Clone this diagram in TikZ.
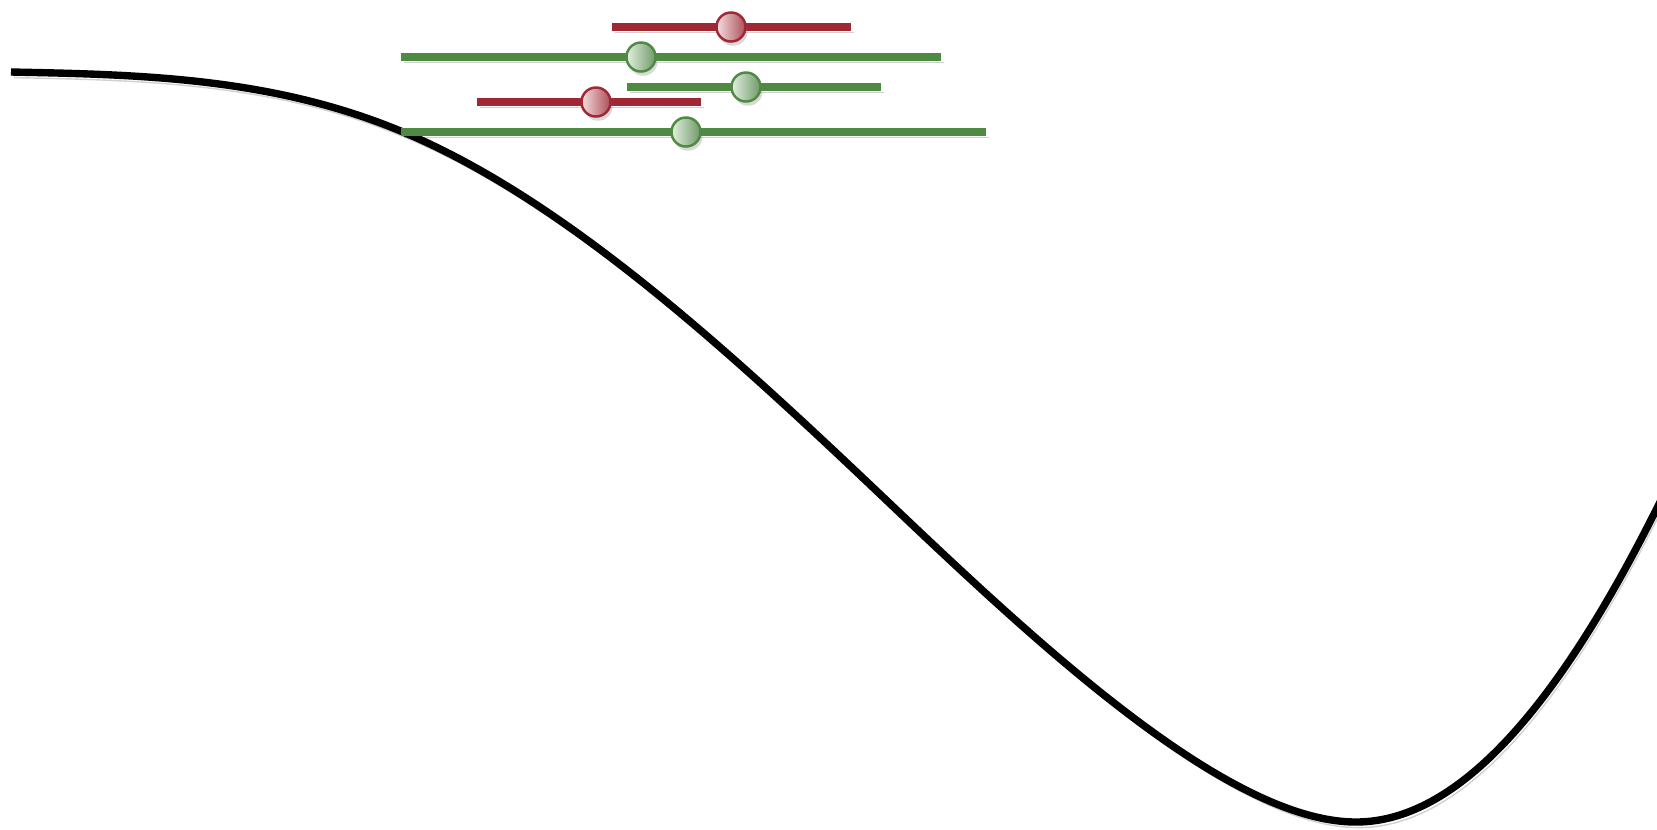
\documentclass[tikz,border=0pt]{standalone}
\usepackage{tikz}
\usetikzlibrary{shadows}

\definecolor{barred}{RGB}{160,40,52}
\definecolor{bargreen}{RGB}{78,138,66}
\definecolor{knobredlight}{RGB}{244,222,224}
\definecolor{knobreddark}{RGB}{172,78,88}
\definecolor{knobgreenlight}{RGB}{226,240,223}
\definecolor{knobgreendark}{RGB}{112,152,104}

\begin{document}
\begin{tikzpicture}[x=0.01cm, y=-0.01cm,
    softshadow/.style={preaction={draw, black, opacity=0.18,
        transform canvas={xshift=0.8pt, yshift=-1.6pt}}},
    curve/.style={softshadow, line width=2.1pt, black},
    bar/.style={softshadow, line width=2pt},
    knob/.style={circle, minimum size=0.29cm, inner sep=0pt, line width=0.7pt,
        shading angle=-45,
        drop shadow={opacity=0.3, shadow xshift=0.6pt, shadow yshift=-1.2pt}},
    redknob/.style={knob, draw=barred, left color=knobredlight, right color=knobreddark},
    greenknob/.style={knob, draw=bargreen, left color=knobgreenlight, right color=knobgreendark}]

    \useasboundingbox (0,0) rectangle (1657,829);

    % the landscape
    \draw[curve] (11,72)
        .. controls (141,74.6) and (273,77.4) .. (403,132)
        .. controls (563,199.2) and (723,345) .. (883,497)
        .. controls (1033,639.5) and (1226,822) .. (1356,822)
        .. controls (1466,822) and (1567,688) .. (1657,508)
        -- (1670,482);

    % intervals with their centres
    \coordinate (r1w) at (612,27);  \coordinate (r1e) at (851,27);
    \coordinate (g1w) at (401,57);  \coordinate (g1e) at (941,57);
    \coordinate (g2w) at (627,87);  \coordinate (g2e) at (881,87);
    \coordinate (r2w) at (477,102); \coordinate (r2e) at (701,102);
    \coordinate (g3w) at (401,132); \coordinate (g3e) at (986,132);

    \draw[bar, barred]   (r1w) -- (r1e);
    \draw[bar, bargreen] (g1w) -- (g1e);
    \draw[bar, bargreen] (g2w) -- (g2e);
    \draw[bar, barred]   (r2w) -- (r2e);
    \draw[bar, bargreen] (g3w) -- (g3e);

    \node[redknob]   (r1) at (731,27)  {};
    \node[greenknob] (g1) at (641,57)  {};
    \node[greenknob] (g2) at (746,87)  {};
    \node[redknob]   (r2) at (596,102) {};
    \node[greenknob] (g3) at (686,132) {};
\end{tikzpicture}
\end{document}
